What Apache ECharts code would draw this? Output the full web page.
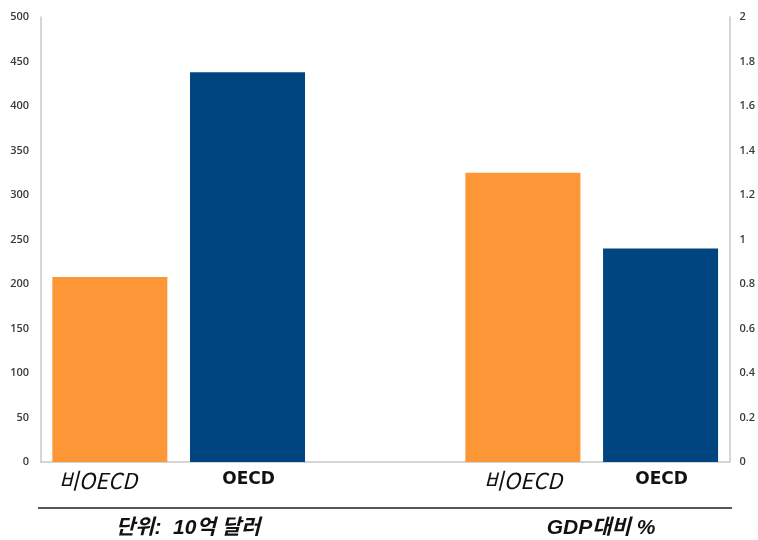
<!DOCTYPE html>
<html><head><meta charset="utf-8">
<script src="https://cdn.jsdelivr.net/npm/echarts@6/dist/echarts.min.js"></script>
<style>html,body{margin:0;padding:0;background:#fff}#c{width:758px;height:540px}</style>
</head><body><div id="c"></div>
<script>
const categories = ['비OECD', 'OECD', '', '비OECD', 'OECD'];
const billionUSD = [208, 438, '-', '-', '-'];
const gdpPercent = ['-', '-', '-', 1.30, 0.96];
const barColors = ['#FD9637', '#004480', '#ffffff', '#FD9637', '#004480'];
const leftTicks = [0, 500, 50];
const rightTicks = [0, 2, 0.2];
const footerLeft = '단위:  10억 달러';
const footerRight = 'GDP대비 %';

const chart = echarts.init(document.getElementById('c'), null, {renderer: 'canvas'});
const tickLabel = {color: '#3a3a3a', fontSize: 11, fontFamily: 'Open Sans', fontWeight: 600};
const catFont = 'Liberation Sans, Noto Sans CJK KR';
const cjkFont = 'Noto Sans CJK KR';
chart.setOption({
  animation: false,
  grid: {left: 41, right: 25, top: 17, bottom: 78},
  xAxis: {
    type: 'category', data: categories,
    axisLine: {lineStyle: {color: '#c8c8c8', width: 1.5}},
    axisTick: {show: false},
    axisLabel: {
      interval: 0, margin: 8,
      formatter: (v, i) => v === '' ? '' : (v.indexOf('비') === 0 ? (i === 0 ? '{a0|' + v + '}' : '{a|' + v + '}') : '{b|' + v + '}'),
      rich: {
        a0: {fontSize: 22, fontStyle: 'italic', fontFamily: cjkFont, color: '#111', padding: [0, 24, 0, 0]},
        a: {fontSize: 22, fontStyle: 'italic', fontFamily: cjkFont, color: '#111'},
        b: {fontSize: 17, fontWeight: 'bold', fontFamily: 'DejaVu Sans', color: '#111', padding: [1, 0, 0, 2]}
      }
    }
  },
  yAxis: [
    {type: 'value', min: leftTicks[0], max: leftTicks[1], interval: leftTicks[2],
     axisLine: {show: true, lineStyle: {color: '#c8c8c8', width: 1.5}}, axisTick: {show: false},
     splitLine: {show: false}, axisLabel: Object.assign({margin: 12}, tickLabel)},
    {type: 'value', min: rightTicks[0], max: rightTicks[1], interval: rightTicks[2],
     axisLine: {show: true, lineStyle: {color: '#c8c8c8', width: 1.5}}, axisTick: {show: false},
     splitLine: {show: false}, axisLabel: Object.assign({margin: 10}, tickLabel)}
  ],
  series: [
    {type: 'bar', yAxisIndex: 0, data: billionUSD, barWidth: 115, barGap: '-100%',
     itemStyle: {color: p => barColors[p.dataIndex]}},
    {type: 'bar', yAxisIndex: 1, data: gdpPercent, barWidth: 115, barGap: '-100%',
     itemStyle: {color: p => barColors[p.dataIndex]}}
  ],
  graphic: [
    {type: 'line', shape: {x1: 38, y1: 508, x2: 732, y2: 508}, style: {stroke: '#555', lineWidth: 2}},
    {type: 'text', x: 188, y: 528, style: {text: footerLeft, fontSize: 21, fontWeight: 'bold', fontStyle: 'italic', fontFamily: catFont, fill: '#111', align: 'center', verticalAlign: 'middle'}},
    {type: 'text', x: 601, y: 528, style: {text: footerRight, fontSize: 21, fontWeight: 'bold', fontStyle: 'italic', fontFamily: catFont, fill: '#111', align: 'center', verticalAlign: 'middle'}}
  ]
});
</script></body></html>
